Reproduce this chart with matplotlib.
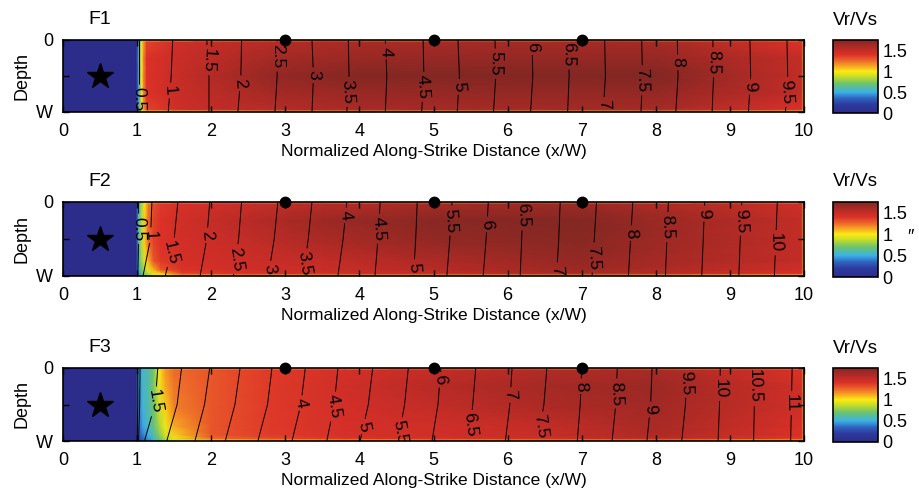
import matplotlib.pyplot as plt
from matplotlib.colors import LinearSegmentedColormap
import numpy as np

plt.rcParams['font.family'] = ['Liberation Sans', 'DejaVu Sans']

# colour scale of Vr/Vs (jet-like, dark red on top)
cmap_pos = [0.0, 0.2, 0.35, 0.5, 0.7, 0.9, 1.0, 1.12, 1.25, 1.4, 1.55, 1.75]
cmap_col = ['#2c2c8a', '#2d3a9e', '#2f64c0', '#3bb2e6', '#6cc36b', '#d4e021',
            '#fbea14', '#f7a823', '#ee6a2b', '#dc3128', '#b82b26', '#822723']
vmax = 1.75

# ---- F1 ----
f1_x = [0, 0.99, 1.02, 1.06, 1.09, 1.13, 1.5, 2.0, 2.8, 4.0, 6.0, 8.0, 9.97, 10]
f1_z = [0, 0.03, 0.25, 0.5, 0.75, 0.97, 1]
f1_vr = [
    [0, 0, 0.40, 0.80, 1.00, 1.00, 1.00, 1.05, 1.10, 1.10, 1.10, 1.10, 1.00, 0.90],
    [0, 0, 0.45, 0.95, 1.15, 1.35, 1.45, 1.50, 1.55, 1.60, 1.62, 1.62, 1.40, 1.00],
    [0, 0, 0.45, 1.00, 1.20, 1.40, 1.47, 1.53, 1.62, 1.66, 1.68, 1.68, 1.50, 1.00],
    [0, 0, 0.45, 1.00, 1.20, 1.40, 1.48, 1.56, 1.68, 1.74, 1.75, 1.75, 1.50, 1.00],
    [0, 0, 0.45, 1.00, 1.20, 1.40, 1.47, 1.53, 1.62, 1.66, 1.68, 1.68, 1.50, 1.00],
    [0, 0, 0.45, 0.95, 1.15, 1.35, 1.45, 1.50, 1.55, 1.60, 1.62, 1.62, 1.40, 1.00],
    [0, 0, 0.40, 0.80, 1.00, 1.00, 1.00, 1.05, 1.10, 1.10, 1.10, 1.10, 1.00, 0.90],
]
f1_t = [0.5, 1, 1.5, 2, 2.5, 3, 3.5, 4, 4.5, 5, 5.5, 6, 6.5, 7, 7.5, 8, 8.5, 9, 9.5, 9.75]
f1_xtop = [1.02, 1.48, 1.94, 2.41, 2.89, 3.36, 3.85, 4.35, 4.86, 5.33, 5.83, 6.33, 6.82,
           7.31, 7.81, 8.29, 8.77, 9.27, 9.77, 10.0]
f1_xmid = [1.02, 1.46, 1.97, 2.40, 2.89, 3.38, 3.86, 4.37, 4.87, 5.35, 5.84, 6.34, 6.83,
           7.32, 7.82, 8.30, 8.78, 9.28, 9.78, 10.0]
f1_xbot = [1.02, 1.42, 1.97, 2.36, 2.86, 3.36, 3.83, 4.35, 4.84, 5.32, 5.81, 6.31, 6.81,
           7.29, 7.80, 8.27, 8.76, 9.25, 9.75, 10.0]
f1_lab = {0.5: 0.82, 1: 0.7, 1.5: 0.28, 2: 0.6, 2.5: 0.23, 3: 0.49, 3.5: 0.72, 4: 0.16,
          4.5: 0.65, 5: 0.65, 5.5: 0.33, 6: 0.1, 6.5: 0.2, 7: 0.9, 7.5: 0.56, 8: 0.31,
          8.5: 0.31, 9: 0.65, 9.5: 0.72}

# ---- F2 ----
f2_x = [0, 0.99, 1.02, 1.06, 1.1, 1.15, 1.22, 1.32, 1.6, 2.5, 3.5, 5, 7, 9.97, 10]
f2_z = [0, 0.03, 0.25, 0.55, 0.8, 0.92, 0.97, 1]
f2_vr = [
    [0, 0, 0.50, 0.75, 0.95, 1.00, 1.05, 1.05, 1.05, 1.10, 1.10, 1.10, 1.10, 1.00, 0.90],
    [0, 0, 0.50, 0.80, 1.00, 1.20, 1.32, 1.38, 1.42, 1.48, 1.55, 1.62, 1.65, 1.45, 1.00],
    [0, 0, 0.55, 0.85, 1.05, 1.25, 1.35, 1.40, 1.45, 1.55, 1.65, 1.72, 1.74, 1.50, 1.00],
    [0, 0, 0.55, 0.85, 1.05, 1.25, 1.35, 1.40, 1.44, 1.50, 1.58, 1.68, 1.72, 1.50, 1.00],
    [0, 0, 0.55, 0.80, 0.95, 1.10, 1.30, 1.38, 1.43, 1.47, 1.50, 1.58, 1.68, 1.50, 1.00],
    [0, 0, 0.50, 0.70, 0.85, 0.95, 1.10, 1.30, 1.40, 1.45, 1.48, 1.55, 1.65, 1.45, 1.00],
    [0, 0, 0.45, 0.60, 0.75, 0.85, 0.95, 1.05, 1.35, 1.42, 1.45, 1.50, 1.60, 1.40, 1.00],
    [0, 0, 0.40, 0.55, 0.70, 0.80, 0.90, 1.00, 1.05, 1.10, 1.10, 1.10, 1.10, 1.00, 0.90],
]
f2_t = [0.5, 1, 1.5, 2, 2.5, 3, 3.5, 4, 4.5, 5, 5.5, 6, 6.5, 7, 7.5, 8, 8.5, 9, 9.5, 10, 10.4]
f2_xtop = [1.02, 1.20, 1.55, 1.98, 2.41, 2.90, 3.36, 3.83, 4.28, 4.78, 5.25, 5.74, 6.21,
           6.71, 7.20, 7.69, 8.17, 8.66, 9.16, 9.64, 10.0]
f2_xmid = [1.02, 1.18, 1.50, 1.94, 2.37, 2.85, 3.31, 3.78, 4.25, 4.76, 5.22, 5.71, 6.19,
           6.69, 7.17, 7.66, 8.15, 8.64, 9.14, 9.62, 10.0]
f2_xbot = [1.01, 1.08, 1.38, 1.85, 2.30, 2.77, 3.24, 3.71, 4.21, 4.73, 5.18, 5.67, 6.17,
           6.66, 7.14, 7.63, 8.13, 8.62, 9.12, 9.60, 10.0]
f2_lab = {0.5: 0.36, 1: 0.45, 1.5: 0.68, 2: 0.45, 2.5: 0.77, 3: 0.9, 3.5: 0.83, 4: 0.18,
          4.5: 0.36, 5: 0.88, 5.5: 0.25, 6: 0.3, 6.5: 0.18, 7: 0.92, 7.5: 0.75, 8: 0.42,
          8.5: 0.34, 9: 0.16, 9.5: 0.25, 10: 0.55}

# ---- F3 ----
f3_x = [0, 0.99, 1.02, 1.08, 1.15, 1.22, 1.3, 1.38, 1.5, 2.0, 2.8, 3.8, 5.0, 6.5, 8.0, 9.97, 10]
f3_z = [0, 0.03, 0.25, 0.55, 0.8, 0.92, 0.97, 1]
f3_vr = [
    [0, 0, 0.40, 0.50, 0.55, 0.65, 0.95, 1.00, 1.05, 1.05, 1.05, 1.05, 1.10, 1.10, 1.10, 1.00, 0.90],
    [0, 0, 0.45, 0.55, 0.60, 0.70, 1.00, 1.15, 1.25, 1.30, 1.38, 1.43, 1.50, 1.57, 1.60, 1.40, 1.00],
    [0, 0, 0.45, 0.55, 0.60, 0.72, 0.97, 1.12, 1.23, 1.30, 1.38, 1.45, 1.55, 1.62, 1.65, 1.45, 1.00],
    [0, 0, 0.40, 0.52, 0.60, 0.70, 0.90, 1.05, 1.20, 1.30, 1.38, 1.44, 1.50, 1.58, 1.63, 1.45, 1.00],
    [0, 0, 0.35, 0.48, 0.56, 0.65, 0.82, 0.97, 1.12, 1.30, 1.38, 1.43, 1.45, 1.50, 1.60, 1.42, 1.00],
    [0, 0, 0.30, 0.40, 0.50, 0.60, 0.75, 0.90, 1.05, 1.30, 1.37, 1.42, 1.45, 1.48, 1.58, 1.40, 1.00],
    [0, 0, 0.25, 0.35, 0.45, 0.55, 0.70, 0.85, 0.95, 1.25, 1.33, 1.40, 1.43, 1.45, 1.55, 1.38, 1.00],
    [0, 0, 0.25, 0.32, 0.40, 0.50, 0.65, 0.80, 0.90, 1.00, 1.05, 1.05, 1.10, 1.10, 1.10, 1.00, 0.90],
]
f3_t = [0.5, 1, 1.5, 2, 2.5, 3, 3.5, 4, 4.5, 5, 5.5, 6, 6.5, 7, 7.5, 8, 8.5, 9, 9.5, 10,
        10.5, 11, 11.2]
f3_xtop = [1.01, 1.04, 1.28, 1.60, 1.98, 2.39, 2.82, 3.27, 3.71, 4.18, 4.66, 5.10, 5.57,
           6.06, 6.53, 7.00, 7.48, 7.95, 8.42, 8.87, 9.34, 9.84, 10.0]
f3_xmid = [1.01, 1.035, 1.24, 1.54, 1.91, 2.32, 2.76, 3.21, 3.66, 4.12, 4.61, 5.06, 5.53,
           6.03, 6.49, 6.98, 7.46, 7.93, 8.40, 8.86, 9.33, 9.83, 10.0]
f3_xbot = [1.00, 1.02, 1.10, 1.40, 1.78, 2.19, 2.63, 3.09, 3.56, 4.01, 4.52, 4.98, 5.47,
           5.97, 6.41, 6.94, 7.41, 7.88, 8.35, 8.84, 9.32, 9.82, 10.0]
f3_lab = {1.5: 0.46, 4: 0.48, 4.5: 0.53, 5: 0.8, 5.5: 0.88, 6: 0.16, 6.5: 0.78, 7: 0.37,
          7.5: 0.8, 8: 0.25, 8.5: 0.35, 9: 0.57, 9.5: 0.2, 10: 0.28, 10.5: 0.25, 11: 0.48}

stations = [3, 5, 7]
hypo = (0.5, 0.5)

panels = [
    ('F1', f1_x, f1_z, f1_vr, f1_t, f1_xtop, f1_xmid, f1_xbot, f1_lab),
    ('F2', f2_x, f2_z, f2_vr, f2_t, f2_xtop, f2_xmid, f2_xbot, f2_lab),
    ('F3', f3_x, f3_z, f3_vr, f3_t, f3_xtop, f3_xmid, f3_xbot, f3_lab),
]
# axes rows in pixels (top, bottom) of a 496 px tall figure
rows_px = [(40, 112), (202, 276), (368, 441)]

cmap = LinearSegmentedColormap.from_list(
    'vr', [(p / vmax, c) for p, c in zip(cmap_pos, cmap_col)])

fig = plt.figure(figsize=(9.2, 4.96), dpi=100)
H = 496.0

for (name, xs, zs, vr, ts, xt, xm, xb, lab), (ptop, pbot) in zip(panels, rows_px):
    ax = fig.add_axes([63 / 920, 1 - pbot / H, 741 / 920, (pbot - ptop) / H])
    cax = fig.add_axes([833 / 920, 1 - (pbot + 1) / H, 45 / 920, (pbot - ptop + 1) / H])

    X, Z = np.meshgrid(xs, zs)
    mesh = ax.pcolormesh(X, Z, np.array(vr), cmap=cmap, vmin=0, vmax=vmax,
                         shading='gouraud', rasterized=True)

    # rupture time contours on a grid whose columns are the contour crossings
    ts = np.array(ts)
    cx = np.array([xt, xm, xb])
    cz = np.array([[0.0] * len(ts), [0.5] * len(ts), [1.0] * len(ts)])
    ct = np.tile(ts, (3, 1))
    lev = ts[:-1] + 1e-6
    cs = ax.contour(cx, cz, ct, levels=lev, colors='k', linewidths=0.7)

    pos = []
    for k, t in enumerate(ts[:-1]):
        if t in lab:
            d = lab[t]
            pos.append((np.interp(d, [0, 0.5, 1], cx[:, k]), d))
    txts = ax.clabel(cs, cs.levels, manual=pos, inline=True, inline_spacing=3,
                     fontsize=12.5, colors='k',
                     fmt=lambda v: ('%.1f' % v).rstrip('0').rstrip('.'))
    for t in txts:
        r = t.get_rotation() % 360
        if r < 180:
            r += 180
        t.set_rotation(r)

    ax.plot(*hypo, marker='*', color='k', markersize=19, linestyle='none')
    ax.plot(stations, [0] * len(stations), 'o', color='k', markersize=7.5,
            clip_on=False, zorder=5)

    ax.set_xlim(0, 10)
    ax.set_ylim(1, 0)
    ax.set_xticks(range(11))
    ax.set_yticks([0, 0.5, 1])
    ax.set_yticklabels(['0', '', 'W'])
    ax.tick_params(direction='in', length=4, width=1, top=True, right=True,
                   labelsize=13)
    ax.tick_params(axis='x', pad=8)
    ax.tick_params(axis='y', pad=7)
    for s in ax.spines.values():
        s.set_linewidth(1.2)
    ax.set_ylabel('Depth', fontsize=13, labelpad=4)
    ax.set_xlabel('Normalized Along-Strike Distance (x/W)', fontsize=12.5, labelpad=3)
    ax.text(0.034, 1.28, name, transform=ax.transAxes, fontsize=14,
            ha='left', va='center')

    cb = fig.colorbar(mesh, cax=cax, ticks=[0, 0.5, 1, 1.5])
    cb.ax.set_yticklabels(['0', '0.5', '1', '1.5'])
    cb.ax.tick_params(length=0, labelsize=13, pad=3)
    cb.outline.set_linewidth(1.2)
    cax.text(0.5, 1.27, 'Vr/Vs', transform=cax.transAxes, fontsize=13.5,
             ha='center', va='center')

fig.text(910 / 920, 1 - 237 / H, '\u2033', fontsize=13, ha='center', va='center')

plt.savefig('out.png', dpi=100)
